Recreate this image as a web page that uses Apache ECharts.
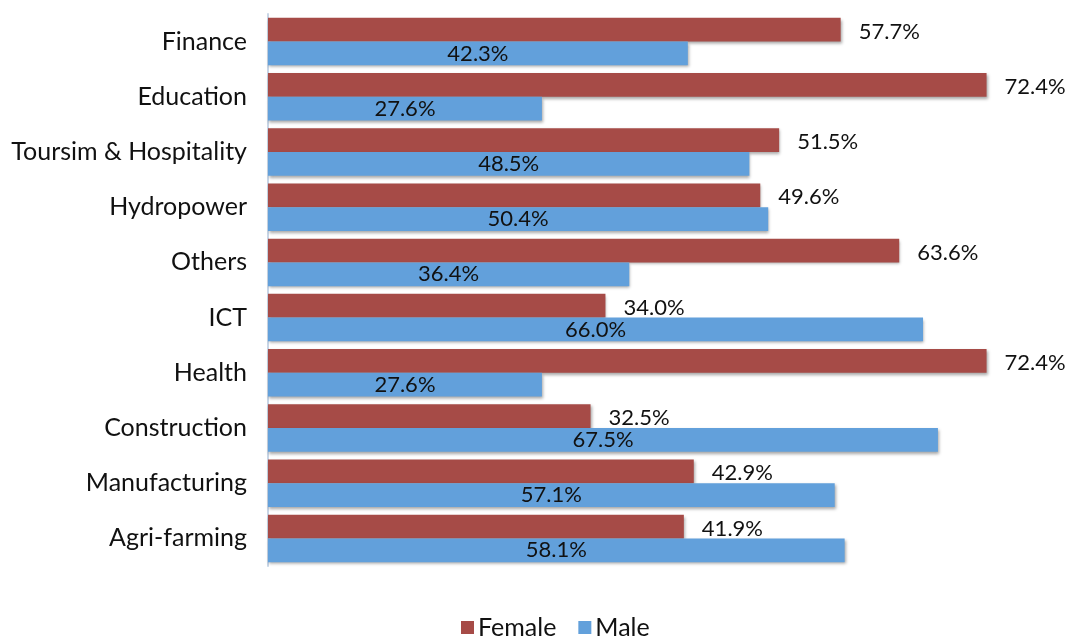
<!DOCTYPE html>
<html><head><meta charset="utf-8">
<script src="https://cdn.jsdelivr.net/npm/echarts@6/dist/echarts.min.js"></script>
<style>html,body{margin:0;padding:0;background:#fff}#c{width:1068px;height:639px}</style>
</head><body><div id="c"></div>
<script>
const categories = ['Finance','Education','Toursim & Hospitality','Hydropower','Others','ICT','Health','Construction','Manufacturing','Agri-farming'];
const female = [57.7,72.4,51.5,49.6,63.6,34.0,72.4,32.5,42.9,41.9];
const male = [42.3,27.6,48.5,50.4,36.4,66.0,27.6,67.5,57.1,58.1];
const seriesNames = ['Female','Male'];
const FONT = 'Lato';
const chart = echarts.init(document.getElementById('c'));
const shadow = {shadowColor:'rgba(0,0,0,0.35)',shadowBlur:3,shadowOffsetX:1,shadowOffsetY:2};
chart.setOption({
  animation:false,
  textStyle:{fontFamily:FONT},
  grid:{left:268,right:6,top:14,bottom:73,containLabel:false},
  xAxis:{type:'value',min:0,max:80,show:false},
  yAxis:{type:'category',data:categories,inverse:true,
    axisLine:{show:true,lineStyle:{color:'#c9d6e6',width:2}},
    axisTick:{show:false},
    axisLabel:{fontSize:25,color:'#111',margin:21,fontFamily:FONT,padding:[2,0,0,0]}},
  legend:{bottom:-6,left:456,itemWidth:13,itemHeight:13,itemGap:22,icon:'rect',
    textStyle:{fontSize:25,color:'#111',fontFamily:FONT,padding:[0,0,0,-1]},data:seriesNames},
  series:[
    {name:seriesNames[0],type:'bar',data:female,barGap:'0%',barCategoryGap:'14%',
     itemStyle:Object.assign({color:'#A64B47'},shadow),
     label:{show:true,position:'right',distance:18,offset:[0,2],fontSize:22,color:'#111',fontFamily:FONT,formatter:p=>p.value.toFixed(1)+'%'}},
    {name:seriesNames[1],type:'bar',data:male,
     itemStyle:Object.assign({color:'#62A0DB'},shadow),
     label:{show:true,position:'inside',fontSize:22,color:'#111',fontFamily:FONT,formatter:p=>p.value.toFixed(1)+'%'}}
  ]
});
</script></body></html>
